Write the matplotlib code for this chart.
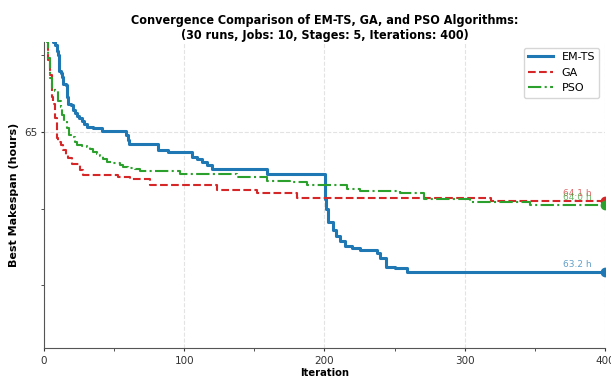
import numpy as np
import matplotlib
matplotlib.use("Agg")
import matplotlib.pyplot as plt
from matplotlib.ticker import MultipleLocator, FixedLocator

# change points (iteration, best makespan), drawn as steps
emts_it = [0, 6.6, 7.8, 9.1, 10.2, 10.7, 11.9, 12.6, 13.8, 15.7, 16.6, 17.3, 19.0, 20.5, 22.1,
           23.7, 25.2, 26.9, 28.5, 30.4, 35.2, 41.1, 58.5, 60.1, 60.8, 81.5, 88.6, 105.3, 108.9,
           112.4, 116.0, 119.6, 158.8, 200.4, 201.1, 202.7, 205.8, 208.2, 211.1, 214.6, 219.4,
           225.3, 237.2, 239.6, 243.9, 250.3, 258.6, 270.4, 400]
emts_val = [66.6, 66.17, 66.13, 66.06, 66.0, 65.79, 65.77, 65.72, 65.63, 65.61, 65.46, 65.37, 65.35,
            65.29, 65.24, 65.21, 65.18, 65.14, 65.10, 65.07, 65.05, 65.01, 64.96, 64.90, 64.84,
            64.77, 64.74, 64.67, 64.64, 64.61, 64.57, 64.51, 64.45, 64.13, 64.00, 63.83, 63.72,
            63.64, 63.58, 63.51, 63.48, 63.46, 63.42, 63.36, 63.24, 63.22, 63.17, 63.17, 63.17]

ga_it = [0, 1.9, 3.1, 4.3, 5.5, 6.6, 7.8, 9.1, 10.2, 11.9, 13.8, 15.7, 17.3, 19.7, 25.7, 27.6,
         53.0, 61.3, 75.6, 123.1, 151.7, 180.2, 319.0, 400]
ga_val = [66.4, 66.17, 65.94, 65.74, 65.46, 65.37, 65.18, 64.92, 64.87, 64.83, 64.77, 64.70, 64.66,
          64.58, 64.50, 64.44, 64.41, 64.39, 64.31, 64.24, 64.20, 64.14, 64.10, 64.10]

pso_it = [0, 1.9, 3.1, 4.3, 5.5, 7.8, 10.2, 11.9, 12.6, 14.3, 16.2, 18.0, 19.7, 22.1, 23.7, 26.9,
          30.4, 32.8, 35.2, 37.6, 39.9, 42.3, 44.7, 48.3, 54.2, 56.5, 60.1, 64.9, 68.4, 97.0, 137.4,
          158.8, 175.4, 187.3, 215.8, 225.3, 253.8, 271.0, 303.7, 346.5, 400]
pso_val = [66.5, 66.17, 65.96, 65.70, 65.57, 65.53, 65.40, 65.33, 65.22, 65.14, 65.05, 64.96,
           64.93, 64.87, 64.83, 64.82, 64.80, 64.78, 64.74, 64.71, 64.68, 64.65, 64.61, 64.59,
           64.57, 64.54, 64.53, 64.51, 64.49, 64.45, 64.41, 64.36, 64.34, 64.31, 64.26, 64.23,
           64.20, 64.13, 64.09, 64.04, 64.04]

labels = ["EM-TS", "GA", "PSO"]
colors = ["#1f77b4", "#d62728", "#2ca02c"]
styles = ["-", "--", "-."]
widths = [2.2, 1.5, 1.5]
final = ["63.2 h", "64.1 h", "64.0 h"]

fig = plt.figure(figsize=(6.11, 3.8), dpi=100)
ax = fig.add_axes([0.072, 0.084, 0.918, 0.805])

series = [(emts_it, emts_val), (ga_it, ga_val), (pso_it, pso_val)]
for (it, val), lab, c, ls, lw, txt in zip(series, labels, colors, styles, widths, final):
    ax.plot(it, val, drawstyle="steps-post", color=c, ls=ls, lw=lw, label=lab)
    ax.plot(it[-1], val[-1], "o", color=c, ms=6)
    ax.text(380, val[-1] + 0.04, txt, color=c, alpha=0.7, fontsize=6.5,
            ha="center", va="bottom")

ax.set_xlim(0, 400)
ax.set_ylim(62.18, 66.17)
ax.xaxis.set_major_locator(MultipleLocator(100))
ax.xaxis.set_minor_locator(MultipleLocator(50))
ax.yaxis.set_major_locator(FixedLocator([65]))
ax.yaxis.set_minor_locator(FixedLocator([63, 64, 66]))
ax.tick_params(which="both", labelsize=7.5, colors="#333333", length=2.5)
ax.tick_params(axis="y", pad=2)
ax.tick_params(axis="x", pad=3)
ax.grid(True, which="major", ls="--", color="#dddddd", lw=0.8, alpha=0.8)
for s in ["top", "right"]:
    ax.spines[s].set_visible(False)
for s in ["left", "bottom"]:
    ax.spines[s].set_color("#555555")

ax.set_xlabel("Iteration", fontsize=8, fontweight="bold", fontstretch="condensed", labelpad=2)
ax.set_ylabel("Best Makespan (hours)", fontsize=8, fontweight="bold", labelpad=4)
ax.set_title("Convergence Comparison of EM-TS, GA, and PSO Algorithms:\n"
             "(30 runs, Jobs: 10, Stages: 5, Iterations: 400)",
             fontsize=9, fontweight="bold", fontstretch="condensed", pad=2)
ax.legend(loc="upper right", fontsize=8, frameon=True, handlelength=2.2)

fig.savefig("out.png", dpi=100)
